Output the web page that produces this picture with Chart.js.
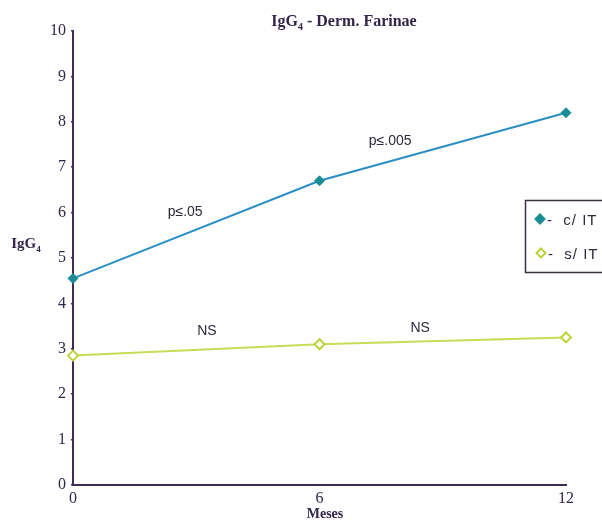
<!DOCTYPE html>
<html>
<head>
<meta charset="utf-8">
<script src="https://cdn.jsdelivr.net/npm/chart.js@4/dist/chart.umd.min.js"></script>
<style>
  html, body { margin: 0; padding: 0; background: #fff; }
  #wrap { width: 602px; height: 520px; position: relative; }
</style>
</head>
<body>
<div id="wrap"><canvas id="c" width="602" height="520"></canvas></div>
<script>
// Months of follow-up
const months = [0, 6, 12];
// IgG4 levels, with immunotherapy (c/ IT) and without (s/ IT)
const withIT = [4.55, 6.7, 8.2];
const withoutIT = [2.85, 3.1, 3.25];
const yTicks = [0, 1, 2, 3, 4, 5, 6, 7, 8, 9, 10];
const seriesNames = ['c/ IT', 's/ IT'];
// Significance notes placed on the data grid: [x, y, text]
const notes = [
  [2.73, 6.0, 'p\u2264.05'],
  [7.72, 7.58, 'p\u2264.005'],
  [3.26, 3.39, 'NS'],
  [8.45, 3.46, 'NS']
];

const ink = '#33264a';
const axisInk = '#3d2c55';
const tealLine = '#2b8fc6';
const tealMark = '#1a8c96';
const limeLine = '#c8dc58';
const limeMark = '#bcd43a';

const pts = (arr) => months.map((m, i) => ({ x: m, y: arr[i] }));

const decor = {
  id: 'decor',
  afterDraw(chart) {
    const ctx = chart.ctx;
    const xs = chart.scales.x, ys = chart.scales.y;
    ctx.save();
    // text with a lowered subscript
    const drawSub = (x, y, base, sub, tail, size) => {
      ctx.font = 'bold ' + size + 'px "Liberation Serif"';
      const w1 = ctx.measureText(base).width;
      ctx.font = 'bold ' + Math.round(size * 0.6) + 'px "Liberation Serif"';
      const w2 = ctx.measureText(sub).width;
      ctx.font = 'bold ' + size + 'px "Liberation Serif"';
      const w3 = ctx.measureText(tail).width;
      let sx = x - (w1 + w2 + w3) / 2;
      ctx.fillStyle = ink;
      ctx.textAlign = 'left';
      ctx.textBaseline = 'alphabetic';
      ctx.fillText(base, sx, y);
      ctx.font = 'bold ' + Math.round(size * 0.6) + 'px "Liberation Serif"';
      ctx.fillText(sub, sx + w1, y + size * 0.25);
      ctx.font = 'bold ' + size + 'px "Liberation Serif"';
      ctx.fillText(tail, sx + w1 + w2, y);
    };
    drawSub(344, 26, 'IgG', '4', ' - Derm. Farinae', 16);
    drawSub(26, 248, 'IgG', '4', '', 15);
    // x axis title
    ctx.font = 'bold 14px "Liberation Serif"';
    ctx.textAlign = 'center';
    ctx.fillText('Meses', 325, 518);

    // significance notes
    ctx.font = '14px "Liberation Sans"';
    ctx.fillStyle = '#2c2a3c';
    ctx.textAlign = 'center';
    ctx.textBaseline = 'middle';
    notes.forEach(([nx, ny, t]) => {
      ctx.fillText(t, xs.getPixelForValue(nx), ys.getPixelForValue(ny));
    });

    // legend box
    ctx.strokeStyle = '#3a3040';
    ctx.lineWidth = 1.5;
    ctx.strokeRect(525.5, 200.5, 90, 72);
    const diamond = (cx, cy, r, fill, stroke) => {
      ctx.beginPath();
      ctx.moveTo(cx, cy - r); ctx.lineTo(cx + r, cy);
      ctx.lineTo(cx, cy + r); ctx.lineTo(cx - r, cy); ctx.closePath();
      ctx.fillStyle = fill; ctx.fill();
      ctx.strokeStyle = stroke; ctx.lineWidth = 2; ctx.stroke();
    };
    diamond(540, 219, 4.5, tealMark, tealMark);
    diamond(541, 253, 4.5, '#ffffff', limeMark);
    ctx.fillStyle = '#2c2a3c';
    ctx.font = '15px "Liberation Sans"';
    ctx.letterSpacing = '1px';
    ctx.textAlign = 'left';
    ctx.textBaseline = 'middle';
    ctx.fillText('-  ' + seriesNames[0], 547, 221);
    ctx.fillText('-  ' + seriesNames[1], 548, 255);
    ctx.restore();
  }
};

new Chart(document.getElementById('c'), {
  type: 'line',
  data: {
    datasets: [
      {
        label: seriesNames[0],
        data: pts(withIT),
        borderColor: tealLine,
        borderWidth: 2,
        pointStyle: 'rectRot',
        pointRadius: 5,
        pointBackgroundColor: tealMark,
        pointBorderColor: tealMark,
        pointBorderWidth: 1,
        tension: 0
      },
      {
        label: seriesNames[1],
        data: pts(withoutIT),
        borderColor: limeLine,
        borderWidth: 2,
        pointStyle: 'rectRot',
        pointRadius: 5,
        pointBackgroundColor: '#ffffff',
        pointBorderColor: limeMark,
        pointBorderWidth: 2,
        tension: 0
      }
    ]
  },
  options: {
    responsive: false,
    animation: false,
    clip: false,
    layout: { padding: { top: 31, right: 36, bottom: 0, left: 0 } },
    plugins: { legend: { display: false }, tooltip: { enabled: false }, title: { display: false } },
    scales: {
      x: {
        type: 'linear',
        min: 0, max: 12,
        afterBuildTicks: (s) => { s.ticks = months.map(v => ({ value: v })); },
        afterFit: (s) => { s.height = 35; },
        border: { display: true, color: axisInk, width: 2 },
        grid: { drawOnChartArea: false, drawTicks: false },
        ticks: { color: ink, padding: 4, font: { family: 'Liberation Serif', size: 16 } }
      },
      y: {
        min: 0, max: 10,
        afterBuildTicks: (s) => { s.ticks = yTicks.map(v => ({ value: v })); },
        afterFit: (s) => { s.width = 73; },
        border: { display: true, color: axisInk, width: 2 },
        grid: { drawOnChartArea: false, drawTicks: true, tickLength: 2, color: axisInk, lineWidth: 1.5 },
        ticks: { color: ink, padding: 5, font: { family: 'Liberation Serif', size: 16 } }
      }
    }
  },
  plugins: [decor]
});
</script>
</body>
</html>
